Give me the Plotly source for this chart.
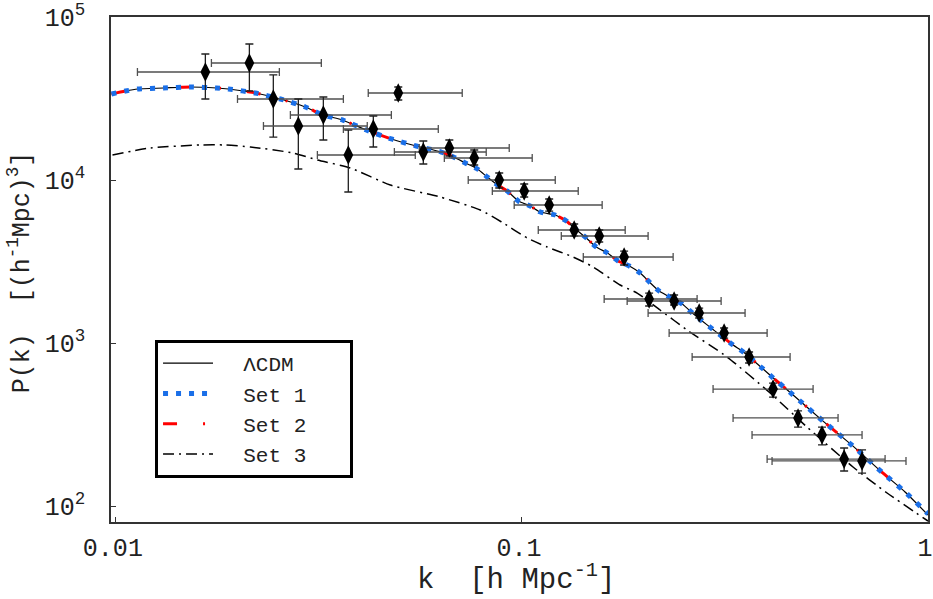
import plotly.graph_objects as go

# ---------------- data ----------------
# measured band powers (k in h/Mpc, P in (Mpc/h)^3)
data_k = [0.01661, 0.02132, 0.02442, 0.02814, 0.03243, 0.03736, 0.04305, 0.04960, 0.05716,
          0.06625, 0.07630, 0.08792, 0.1013, 0.1167, 0.1345, 0.1550, 0.1785, 0.2057, 0.2370,
          0.2732, 0.3147, 0.3626, 0.4154, 0.4786, 0.5483, 0.6215, 0.6880]
data_P = [45970, 52220, 31400, 21450, 25050, 14240, 20550, 34190, 14850,
          15720, 13650, 10000, 8560, 7025, 4935, 4533, 3370, 1862, 1810,
          1528, 1152, 821, 522, 347, 273, 194, 189]
data_P_hi = [59290, 68300, 44100, 31400, 32300, 20270, 24700, 37210, 17350,
             17600, 15280, 11040, 9450, 7645, 5370, 4935, 3667, 2026, 1970,
             1639, 1236, 881, 568, 383, 305, 227, 221]
data_P_lo = [31410, 35160, 18350, 11680, 17600, 8440, 15940, 30960, 12540,
             14040, 12360, 8930, 7865, 6452, 4533, 4166, 3010, 1687, 1711,
             1424, 1073, 754, 466, 305, 237, 164, 159]
data_k_lo = [0.01130, 0.01719, 0.01993, 0.02309, 0.02690, 0.03135, 0.03633, 0.04183, 0.04851,
             0.05587, 0.06440, 0.07374, 0.08454, 0.0957, 0.1097, 0.1250, 0.1416, 0.1594, 0.1816,
             0.2045, 0.2304, 0.2625, 0.2956, 0.3311, 0.3687, 0.4016, 0.4130]
data_k_hi = [0.02527, 0.03206, 0.03633, 0.04160, 0.04769, 0.05462, 0.06223, 0.07128, 0.08167,
             0.09305, 0.1060, 0.1208, 0.1376, 0.1576, 0.1796, 0.2045, 0.2357, 0.2700, 0.3094,
             0.3544, 0.4016, 0.4575, 0.5212, 0.6005, 0.6880, 0.7840, 0.8827]

# model curves
lcdm_k = [0.009754, 0.01056, 0.01130, 0.01310, 0.01527, 0.01769, 0.01892, 0.02206, 0.02542,
          0.02928, 0.03243, 0.03612, 0.04136, 0.04769, 0.05493, 0.06329, 0.06783, 0.07253,
          0.07771, 0.08215, 0.08705, 0.09201, 0.09806, 0.1048, 0.1110, 0.1208, 0.1287, 0.1345,
          0.1441, 0.1524, 0.1624, 0.1726, 0.1839, 0.1955, 0.2060, 0.2178, 0.2481, 0.2628,
          0.2779, 0.2944, 0.3312, 0.3509, 0.3926, 0.4159, 0.4654, 0.5515, 0.6537, 0.7749,
          0.8780, 1.0]
lcdm_P = [33700, 35160, 36160, 36670, 37210, 36670, 36160, 34190, 31400,
          28050, 25050, 23350, 20270, 17850, 16170, 14850, 13840, 12720,
          11680, 10430, 9318, 8560, 7432, 6926, 6363, 6101, 5605, 5076,
          4409, 3881, 3566, 3185, 2968, 2688, 2367, 2084, 1735, 1528,
          1365, 1219, 972, 881, 693, 610, 480, 332, 233, 159,
          122, 88.1]
set1_P = [33700, 35160, 36160, 36670, 37210, 36670, 36160, 34190, 31400,
          28050, 25050, 23350, 20270, 17850, 16170, 14850, 13840, 12720,
          11680, 10430, 9318, 8560, 7432, 6926, 6363, 6101, 5605, 5076,
          4409, 3881, 3566, 3185, 2968, 2688, 2367, 2084, 1735, 1528,
          1365, 1219, 972, 881, 693, 610, 480, 332, 233, 159,
          122, 89.5]
set2_P = [33700, 35160, 36160, 36670, 37210, 36670, 36160, 34190, 31400,
          28050, 25050, 23350, 20270, 17850, 16170, 14850, 13840, 12720,
          11680, 10430, 9318, 8560, 7432, 6926, 6363, 6101, 5605, 5076,
          4409, 3881, 3566, 3185, 2968, 2688, 2367, 2084, 1735, 1528,
          1365, 1219, 972, 881, 693, 610, 480, 332, 233, 159,
          122, 89.5]
set3_k = [0.00981, 0.01216, 0.01615, 0.01863, 0.02145, 0.02735, 0.03135, 0.03779, 0.04741,
          0.06292, 0.07895, 0.08992, 0.1030, 0.1154, 0.1337, 0.1498, 0.1745, 0.1922, 0.2189,
          0.2551, 0.3200, 0.4085, 0.5037, 0.6537, 0.7929, 1.0]
set3_P = [14240, 15720, 16400, 16400, 15940, 14640, 13270, 11850, 9318,
          7865, 6546, 5449, 4409, 3881, 3370, 2927, 2269, 2026, 1594,
          1202, 821, 494, 305, 173.5, 120.2, 80.9]

x_tick_vals = [0.01, 0.1, 1]
x_tick_text = ["0.01", "0.1", "1"]
y_tick_vals = [1e2, 1e3, 1e4, 1e5]
y_tick_text = ["10<sup>2</sup>", "10<sup>3</sup>", "10<sup>4</sup>", "10<sup>5</sup>"]

FONT = "Liberation Mono, Courier New, monospace"
NB = "\u00a0"

fig = go.Figure()

fig.add_trace(go.Scatter(x=lcdm_k, y=lcdm_P, mode="lines", name=NB * 2 + "ΛCDM", legendrank=1,
                         line=dict(color="black", width=1.2, shape="spline", smoothing=0.6)))
fig.add_trace(go.Scatter(x=lcdm_k, y=set2_P, mode="lines", name=NB * 2 + "Set 2" + NB * 3,
                         legendrank=3,
                         line=dict(color="#ff0000", width=3, dash="14px,26px,2px,26px",
                                   shape="spline", smoothing=0.6)))
fig.add_trace(go.Scatter(x=lcdm_k, y=set1_P, mode="lines", name=NB * 2 + "Set 1" + NB * 3,
                         legendrank=2,
                         line=dict(color="#1a6fe8", width=5, dash="5px,8px",
                                   shape="spline", smoothing=0.6)))
fig.add_trace(go.Scatter(x=set3_k, y=set3_P, mode="lines", name=NB * 2 + "Set 3" + NB * 3,
                         legendrank=4,
                         line=dict(color="black", width=1.5, dash="11px,5px,2px,5px",
                                   shape="spline", smoothing=0.6)))

ex_plus = [h - k for h, k in zip(data_k_hi, data_k)]
ex_minus = [k - l for l, k in zip(data_k_lo, data_k)]
ey_plus = [h - p for h, p in zip(data_P_hi, data_P)]
ey_minus = [p - l for l, p in zip(data_P_lo, data_P)]

fig.add_trace(go.Scatter(
    x=data_k, y=data_P, mode="markers", showlegend=False,
    marker=dict(symbol="diamond-tall", size=14, color="black"),
    error_x=dict(type="data", symmetric=False, array=ex_plus, arrayminus=ex_minus,
                 color="#505050", thickness=1.3, width=4),
    error_y=dict(type="data", symmetric=False, array=ey_plus, arrayminus=ey_minus,
                 color="#202020", thickness=1.3, width=4),
))

axis_common = dict(
    type="log", showgrid=False, zeroline=False, showline=True, linecolor="#333333",
    linewidth=1.5, mirror=True, ticks="inside", ticklen=5, tickwidth=1.2,
    tickcolor="#333333", automargin=False, ticklabeloverflow="allow",
    tickfont=dict(family=FONT, size=25, color="#222222"),
)

fig.update_layout(
    width=933, height=599,
    margin=dict(l=111, r=5, t=17, b=77, autoexpand=False),
    paper_bgcolor="white", plot_bgcolor="white",
    font=dict(family=FONT, color="#222222"),
    xaxis=dict(range=[-2.012, 0], tickvals=x_tick_vals, ticktext=x_tick_text,
               ticklabelstandoff=2, ticklabelshift=-3, **axis_common),
    yaxis=dict(range=[1.902, 5], tickvals=y_tick_vals, ticktext=y_tick_text,
               ticklabelstandoff=19, **axis_common),
    legend=dict(x=0.0539, y=0.3604, xanchor="left", yanchor="top",
                bgcolor="white", bordercolor="black", borderwidth=3,
                font=dict(family=FONT, size=21, color="#222222"), itemwidth=50,
                traceorder="normal"),
    annotations=[
        dict(text="k  [h Mpc<sup>-1</sup>]", xref="paper", yref="paper", x=0.496, y=-0.110,
             xanchor="center", yanchor="middle", showarrow=False,
             font=dict(family=FONT, size=29, color="#222222")),
        dict(text="P(k)  [(h<sup>-1</sup>Mpc)<sup>3</sup>]", xref="paper", yref="paper",
             x=-0.111, y=0.495, xanchor="center", yanchor="middle", textangle=-90,
             showarrow=False, font=dict(family=FONT, size=25, color="#222222")),
    ],
)

fig.write_html("out.html", config={"displayModeBar": False},
               post_script="document.body.style.margin='0';document.body.style.overflow='hidden';")
